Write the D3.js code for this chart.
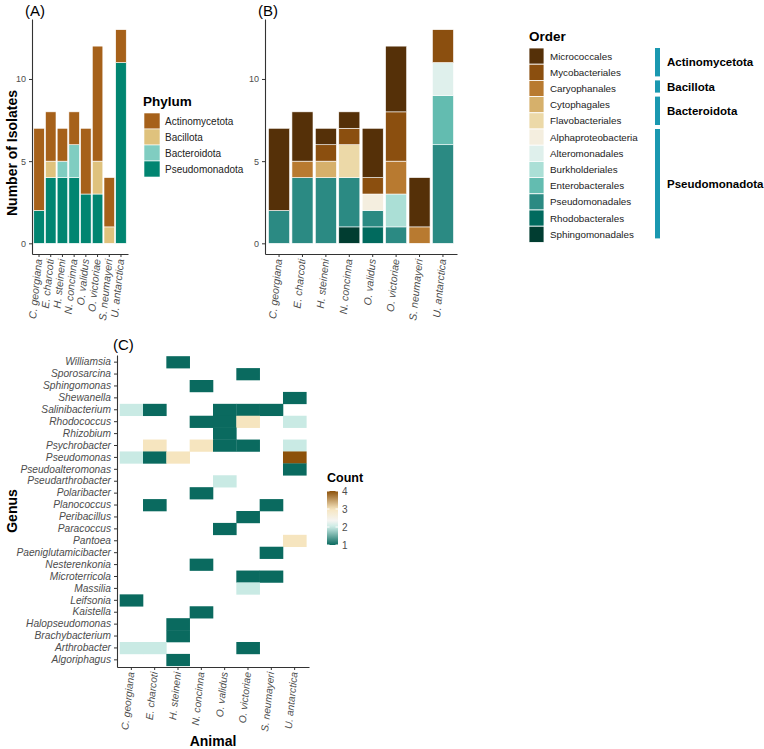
<!DOCTYPE html>
<html>
<head>
<meta charset="utf-8">
<script src="https://cdn.jsdelivr.net/npm/d3@7"></script>
<style>
  body { margin: 0; background: #fff; }
  text { font-family: "Liberation Sans", Arial, sans-serif; }
</style>
</head>
<body>
<svg id="fig" width="764" height="749"></svg>
<script>
// ---- data ----
var animals = ["C. georgiana", "E. charcoti", "H. steineni", "N. concinna",
               "O. validus", "O. victoriae", "S. neumayeri", "U. antarctica"];

var phyla = ["Actinomycetota", "Bacillota", "Bacteroidota", "Pseudomonadota"];
var phylumColors = ["#a6611a", "#dfc27d", "#80cdc1", "#018571"];
var actinomycetota = [5, 3, 2, 2, 4, 7, 3, 2];
var bacillota      = [0, 1, 0, 0, 0, 2, 1, 0];
var bacteroidota   = [0, 0, 1, 2, 0, 0, 0, 0];
var pseudomonadota = [2, 4, 4, 4, 3, 3, 0, 11];
var phylumCounts = [actinomycetota, bacillota, bacteroidota, pseudomonadota];

var orders = ["Micrococcales", "Mycobacteriales", "Caryophanales", "Cytophagales",
              "Flavobacteriales", "Alphaproteobacteria", "Alteromonadales", "Burkholderiales",
              "Enterobacterales", "Pseudomonadales", "Rhodobacterales", "Sphingomonadales"];
var orderColors = ["#553008", "#8b4f0f", "#b87a30", "#d6b06b", "#ecd9a8", "#f4eedf",
                   "#dff0ec", "#abdfd6", "#63bcb0", "#2b8a83", "#016a5e", "#013d31"];
var orderCounts = [
  [5, 3, 1, 1, 3, 4, 3, 0],   // Micrococcales
  [0, 0, 1, 1, 1, 3, 0, 2],   // Mycobacteriales
  [0, 1, 0, 0, 0, 2, 1, 0],   // Caryophanales
  [0, 0, 1, 0, 0, 0, 0, 0],   // Cytophagales
  [0, 0, 0, 2, 0, 0, 0, 0],   // Flavobacteriales
  [0, 0, 0, 0, 1, 0, 0, 0],   // Alphaproteobacteria
  [0, 0, 0, 0, 0, 0, 0, 2],   // Alteromonadales
  [0, 0, 0, 0, 0, 2, 0, 0],   // Burkholderiales
  [0, 0, 0, 0, 0, 0, 0, 3],   // Enterobacterales
  [2, 4, 4, 3, 1, 1, 0, 6],   // Pseudomonadales
  [0, 0, 0, 0, 1, 0, 0, 0],   // Rhodobacterales
  [0, 0, 0, 1, 0, 0, 0, 0]    // Sphingomonadales
];
var groupNames = ["Actinomycetota", "Bacillota", "Bacteroidota", "Pseudomonadota"];
var groupSizes = [2, 1, 2, 7];

var genera = ["Williamsia", "Sporosarcina", "Sphingomonas", "Shewanella", "Salinibacterium",
              "Rhodococcus", "Rhizobium", "Psychrobacter", "Pseudomonas", "Pseudoalteromonas",
              "Pseudarthrobacter", "Polaribacter", "Planococcus", "Peribacillus", "Paracoccus",
              "Pantoea", "Paeniglutamicibacter", "Nesterenkonia", "Microterricola", "Massilia",
              "Leifsonia", "Kaistella", "Halopseudomonas", "Brachybacterium", "Arthrobacter",
              "Algoriphagus"];
var genusCounts = [
  [0, 0, 1, 0, 0, 0, 0, 0],
  [0, 0, 0, 0, 0, 1, 0, 0],
  [0, 0, 0, 1, 0, 0, 0, 0],
  [0, 0, 0, 0, 0, 0, 0, 1],
  [2, 1, 0, 0, 1, 1, 1, 0],
  [0, 0, 0, 1, 1, 3, 0, 2],
  [0, 0, 0, 0, 1, 0, 0, 0],
  [0, 3, 0, 3, 1, 1, 0, 2],
  [2, 1, 3, 0, 0, 0, 0, 4],
  [0, 0, 0, 0, 0, 0, 0, 1],
  [0, 0, 0, 0, 2, 0, 0, 0],
  [0, 0, 0, 1, 0, 0, 0, 0],
  [0, 1, 0, 0, 0, 0, 1, 0],
  [0, 0, 0, 0, 0, 1, 0, 0],
  [0, 0, 0, 0, 1, 0, 0, 0],
  [0, 0, 0, 0, 0, 0, 0, 3],
  [0, 0, 0, 0, 0, 0, 1, 0],
  [0, 0, 0, 1, 0, 0, 0, 0],
  [0, 0, 0, 0, 0, 1, 1, 0],
  [0, 0, 0, 0, 0, 2, 0, 0],
  [1, 0, 0, 0, 0, 0, 0, 0],
  [0, 0, 0, 1, 0, 0, 0, 0],
  [0, 0, 1, 0, 0, 0, 0, 0],
  [0, 0, 1, 0, 0, 0, 0, 0],
  [2, 2, 0, 0, 0, 1, 0, 0],
  [0, 0, 1, 0, 0, 0, 0, 0]
];
var countTicks = [1, 2, 3, 4];

// ---- drawing ----
var svg = d3.select("#fig");
var axisCol = "#333", tickCol = "#4d4d4d";

function styleAxis(g) {
  g.select(".domain").attr("stroke", axisCol).attr("stroke-width", 1.1);
  g.selectAll(".tick line").attr("stroke", axisCol);
  g.selectAll(".tick text").attr("fill", tickCol)
   .style("font-family", "'Liberation Sans', Arial, sans-serif");
}

function rotLabels(g, size) {
  g.selectAll(".tick text")
   .attr("text-anchor", "end")
   .attr("font-size", size)
   .attr("font-style", "italic")
   .attr("transform", "rotate(-84)")
   .attr("x", -5).attr("y", 0).attr("dy", "0.35em");
}

var y = d3.scaleLinear().domain([-0.65, 13.65]).range([254, 19]);

function drawBars(keys, counts, colors, x0, x1, tag) {
  var x = d3.scaleBand().domain(animals).range([x0, x1])
            .paddingInner(0.1).paddingOuter(0.15);
  var rows = animals.map(function (a, i) {
    var r = { animal: a };
    keys.forEach(function (k, j) { r[k] = counts[j][i]; });
    return r;
  });
  var series = d3.stack().keys(keys.slice().reverse())(rows);
  var color = d3.scaleOrdinal().domain(keys).range(colors);
  var g = svg.append("g");
  g.selectAll("g.layer").data(series).enter()
   .append("g").attr("class", "layer")
   .attr("fill", function (s) { return color(s.key); })
   .selectAll("rect").data(function (s) { return s.filter(function (d) { return d[1] > d[0]; }); })
   .enter().append("rect")
   .attr("x", function (d) { return x(d.data.animal); })
   .attr("width", x.bandwidth())
   .attr("y", function (d) { return y(d[1]); })
   .attr("height", function (d) { return y(d[0]) - y(d[1]); })
   .attr("stroke", "#fff").attr("stroke-width", 0.6);

  var ya = svg.append("g").attr("transform", "translate(" + x0 + ",0)")
              .call(d3.axisLeft(y).tickValues([0, 5, 10]).tickSize(3).tickSizeOuter(0))
              .attr("font-size", 9);
  styleAxis(ya);
  var xa = svg.append("g").attr("transform", "translate(0,254)")
              .call(d3.axisBottom(x).tickSize(3).tickSizeOuter(0));
  styleAxis(xa);
  rotLabels(xa, 10.5);

  svg.append("text").attr("x", x0 - 7).attr("y", 16).attr("font-size", 15).text(tag);
}

drawBars(phyla, phylumCounts, phylumColors, 32, 128, "(A)");
drawBars(orders, orderCounts, orderColors, 265, 457, "(B)");

svg.append("text").attr("transform", "translate(17,153) rotate(-90)")
   .attr("text-anchor", "middle").attr("font-size", 14).attr("font-weight", "bold")
   .text("Number of Isolates");

// phylum legend
var legA = svg.append("g").attr("transform", "translate(144,0)");
legA.append("text").attr("x", -1).attr("y", 106).attr("font-size", 13.5)
    .attr("font-weight", "bold").text("Phylum");
phyla.forEach(function (p, i) {
  legA.append("rect").attr("x", 0).attr("y", 113 + i * 16).attr("width", 16).attr("height", 16)
      .attr("fill", phylumColors[i]).attr("stroke", "#fff").attr("stroke-width", 0.6);
  legA.append("text").attr("x", 21).attr("y", 121 + i * 16).attr("dy", "0.35em")
      .attr("font-size", 10).attr("fill", "#222").text(p);
});

// order legend
var legB = svg.append("g").attr("transform", "translate(529,0)");
var kh = 16.2, ky = 48;
legB.append("text").attr("x", 0).attr("y", 41).attr("font-size", 13.5)
    .attr("font-weight", "bold").text("Order");
orders.forEach(function (o, i) {
  legB.append("rect").attr("x", 0).attr("y", ky + i * kh).attr("width", 15).attr("height", kh)
      .attr("fill", orderColors[i]).attr("stroke", "#fff").attr("stroke-width", 0.8);
  legB.append("text").attr("x", 21).attr("y", ky + i * kh + kh / 2).attr("dy", "0.35em")
      .attr("font-size", 9.8).attr("fill", "#222").text(o);
});
var start = 0;
groupNames.forEach(function (name, i) {
  var top = ky + start * kh, bot = ky + (start + groupSizes[i]) * kh;
  legB.append("rect").attr("x", 126).attr("y", top).attr("width", 5)
      .attr("height", bot - top - 4).attr("fill", "#1a98b0");
  legB.append("text").attr("x", 138).attr("y", (top + bot - 4) / 2).attr("dy", "0.35em")
      .attr("font-size", 11.5).attr("font-weight", "bold").text(name);
  start += groupSizes[i];
});

// heatmap
var hx = d3.scaleBand().domain(animals).range([117, 309]).paddingInner(0).paddingOuter(0.115);
var hy = d3.scaleBand().domain(genera).range([355, 667]).paddingInner(0).paddingOuter(0.1);
var heat = d3.scaleLinear().domain([1, 2, 2.35, 3, 4])
             .range(["#0a6a5f", "#c9eae4", "#f5f5f2", "#f6e5bf", "#8c510a"]);
var cells = [];
genera.forEach(function (gname, r) {
  animals.forEach(function (a, c) {
    if (genusCounts[r][c] > 0) cells.push({ genus: gname, animal: a, n: genusCounts[r][c] });
  });
});
svg.append("g").selectAll("rect").data(cells).enter().append("rect")
   .attr("x", function (d) { return hx(d.animal); })
   .attr("y", function (d) { return hy(d.genus); })
   .attr("width", hx.bandwidth() + 0.3).attr("height", hy.bandwidth() + 0.3)
   .attr("fill", function (d) { return heat(d.n); });

var hya = svg.append("g").attr("transform", "translate(117,0)")
             .call(d3.axisLeft(hy).tickSize(3).tickSizeOuter(0))
             .attr("font-size", 10.2);
styleAxis(hya);
hya.selectAll(".tick text").attr("font-style", "italic");
var hxa = svg.append("g").attr("transform", "translate(0,667)")
             .call(d3.axisBottom(hx).tickSize(3).tickSizeOuter(0));
styleAxis(hxa);
rotLabels(hxa, 10.2);

svg.append("text").attr("x", 113).attr("y", 350).attr("font-size", 15).text("(C)");
svg.append("text").attr("transform", "translate(17,511) rotate(-90)")
   .attr("text-anchor", "middle").attr("font-size", 14).attr("font-weight", "bold").text("Genus");
svg.append("text").attr("x", 213).attr("y", 746).attr("text-anchor", "middle")
   .attr("font-size", 14).attr("font-weight", "bold").text("Animal");

// count colourbar
var cy = d3.scaleLinear().domain([1, 4]).range([545, 491]);
var grad = svg.append("defs").append("linearGradient").attr("id", "cg")
              .attr("x1", 0).attr("y1", 1).attr("x2", 0).attr("y2", 0);
d3.range(0, 1.0001, 0.05).forEach(function (t) {
  grad.append("stop").attr("offset", t).attr("stop-color", heat(1 + 3 * t));
});
svg.append("text").attr("x", 327).attr("y", 482).attr("font-size", 12.5)
   .attr("font-weight", "bold").text("Count");
svg.append("rect").attr("x", 327).attr("y", 491).attr("width", 11).attr("height", 54)
   .attr("fill", "url(#cg)");
countTicks.forEach(function (v) {
  svg.append("line").attr("x1", 327).attr("x2", 329.5).attr("y1", cy(v)).attr("y2", cy(v))
     .attr("stroke", "#fff");
  svg.append("line").attr("x1", 335.5).attr("x2", 338).attr("y1", cy(v)).attr("y2", cy(v))
     .attr("stroke", "#fff");
  svg.append("text").attr("x", 342).attr("y", cy(v)).attr("dy", "0.35em")
     .attr("font-size", 10).attr("fill", tickCol).text(v);
});
</script>
</body>
</html>
